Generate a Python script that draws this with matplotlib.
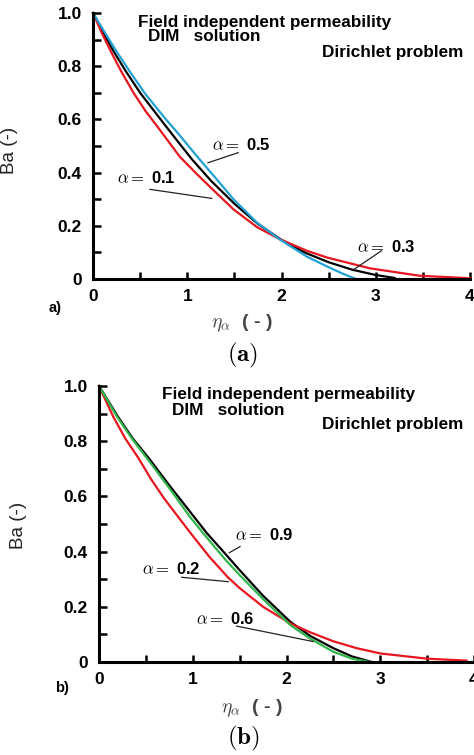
import matplotlib
matplotlib.use('Agg')
import matplotlib.pyplot as plt
from matplotlib.ticker import FixedLocator

plt.rcParams['font.family'] = ['Liberation Sans', 'DejaVu Sans']

# ---------------- data: panel (a) ----------------
a_red_x = [0, 0.10, 0.19, 0.30, 0.43, 0.56, 0.70, 0.92, 1.10, 1.26, 1.49, 1.74, 1.98, 2.27, 2.49, 2.94, 3.47, 4.0]
a_red_y = [1.0, 0.92, 0.855, 0.78, 0.70, 0.63, 0.565, 0.46, 0.395, 0.34, 0.262, 0.195, 0.15, 0.106, 0.080, 0.04, 0.012, 0.003]
a_blk_x = [0, 0.10, 0.22, 0.35, 0.50, 0.75, 0.92, 1.05, 1.25, 1.50, 1.75, 2.00, 2.25, 2.50, 2.75, 3.00, 3.20]
a_blk_y = [1.0, 0.932, 0.855, 0.78, 0.70, 0.585, 0.508, 0.45, 0.37, 0.283, 0.207, 0.147, 0.099, 0.063, 0.035, 0.015, 0.004]
a_cyn_x = [0, 0.12, 0.25, 0.40, 0.55, 0.75, 0.92, 1.13, 1.30, 1.49, 1.74, 1.98, 2.27, 2.49, 2.65, 2.79]
a_cyn_y = [1.0, 0.93, 0.855, 0.775, 0.698, 0.61, 0.54, 0.45, 0.38, 0.30, 0.212, 0.149, 0.084, 0.046, 0.02, 0.0]

# ---------------- data: panel (b) ----------------
b_red_x = [0, 0.15, 0.28, 0.42, 0.56, 0.70, 0.97, 1.18, 1.38, 1.50, 1.75, 2.04, 2.25, 2.50, 2.75, 3.00, 3.50, 3.92]
b_red_y = [1.0, 0.89, 0.81, 0.739, 0.66, 0.59, 0.47, 0.38, 0.305, 0.268, 0.20, 0.14, 0.108, 0.075, 0.05, 0.031, 0.012, 0.005]
b_blk_x = [0, 0.20, 0.36, 0.53, 0.75, 0.97, 1.15, 1.30, 1.50, 1.75, 2.04, 2.25, 2.50, 2.70, 2.91]
b_blk_y = [1.0, 0.89, 0.81, 0.739, 0.64, 0.545, 0.467, 0.41, 0.333, 0.24, 0.146, 0.095, 0.05, 0.02, 0.0]
b_grn_x = [0, 0.19, 0.35, 0.51, 0.75, 0.97, 1.11, 1.35, 1.50, 1.75, 2.04, 2.25, 2.50, 2.70, 2.89]
b_grn_y = [1.0, 0.89, 0.81, 0.739, 0.63, 0.526, 0.467, 0.37, 0.315, 0.228, 0.134, 0.085, 0.037, 0.012, 0.0]

x_ticks_major = [0, 1, 2, 3, 4]
x_ticks_minor = [0.5, 1.5, 2.5, 3.5]
x_tick_labels = ['0', '1', '2', '3', '4']
y_ticks_major = [0, 0.2, 0.4, 0.6, 0.8, 1.0]
y_ticks_minor = [0.1, 0.3, 0.5, 0.7, 0.9]
y_tick_labels = ['0', '0.2', '0.4', '0.6', '0.8', '1.0']

title1 = 'Field independent permeability'
title2 = 'DIM   solution'
title3 = 'Dirichlet problem'

RED = '#e8161e'
CYAN = '#22a2d4'
GREEN = '#2fb54a'
BLACK = '#000000'

W, H = 474, 755
fig = plt.figure(figsize=(W / 100, H / 100), dpi=100)


def px_axes(left, right, top, bottom):
    return fig.add_axes([left / W, 1 - bottom / H, (right - left) / W, (bottom - top) / H])


def style(ax):
    ax.set_xlim(0, 4)
    ax.set_ylim(0, 1.0)
    for s in ['top', 'right']:
        ax.spines[s].set_visible(False)
    for s in ['left', 'bottom']:
        ax.spines[s].set_linewidth(2.2)
    ax.xaxis.set_major_locator(FixedLocator(x_ticks_major))
    ax.xaxis.set_minor_locator(FixedLocator(x_ticks_minor))
    ax.yaxis.set_major_locator(FixedLocator(y_ticks_major))
    ax.yaxis.set_minor_locator(FixedLocator(y_ticks_minor))
    ax.set_xticklabels(x_tick_labels, fontsize=12.5, fontweight='bold')
    ax.set_yticklabels(y_tick_labels, fontsize=12.5, fontweight='bold')
    ax.tick_params(axis='x', which='both', direction='in', length=5, width=1.8, pad=7)
    ax.tick_params(axis='y', which='both', direction='in', length=6, width=1.8, pad=8)
    ax.patch.set_alpha(0)


def alpha_label(ax, x, y, val):
    ax.text(x, y, r'$\alpha =$ ' + val, fontsize=12, fontweight='bold',
            math_fontfamily='cm', va='center', ha='left', color='black')


# ---------------- panel (a) ----------------
ax1 = px_axes(93, 470, 13, 279)
style(ax1)
ax1.plot(a_blk_x, a_blk_y, color=BLACK, lw=1.6, clip_on=False)
ax1.plot(a_red_x, a_red_y, color=RED, lw=1.6, clip_on=False)
ax1.plot(a_cyn_x, a_cyn_y, color=CYAN, lw=1.6, clip_on=False)

ax1.text(0.477, 0.966, title1, fontsize=12.3, fontweight='bold', va='center', ha='left')
ax1.text(0.584, 0.91, title2, fontsize=12.3, fontweight='bold', va='center', ha='left')
ax1.text(2.43, 0.853, title3, fontsize=12.3, fontweight='bold', va='center', ha='left')

alpha_label(ax1, 1.26, 0.504, '0.5')
ax1.plot([1.54, 1.22], [0.475, 0.437], color='#222222', lw=0.9)
alpha_label(ax1, 0.255, 0.38, '0.1')
ax1.plot([0.605, 1.26], [0.337, 0.303], color='#222222', lw=0.9)
alpha_label(ax1, 2.80, 0.121, '0.3')
ax1.plot([3.06, 2.76], [0.106, 0.034], color='#222222', lw=0.9)

ax1.set_ylabel('Ba (-)', fontsize=13.5, color='#222222')
ax1.yaxis.set_label_coords(-0.199, 0.485)
ax1.set_xlabel(r'$\eta_\alpha$  ( - )', fontsize=14, fontweight='bold', color='#444444',
               math_fontfamily='cm')
ax1.xaxis.set_label_coords(0.395, -0.124)

fig.text(55 / W, 1 - 308 / H, 'a)', fontsize=10.5, fontweight='bold', ha='center', va='center')
fig.text(243 / W, 1 - 355 / H, r'$\mathbf{(a)}$', fontsize=18, math_fontfamily='cm',
         ha='center', va='center')

# ---------------- panel (b) ----------------
ax2 = px_axes(99, 474, 386, 662)
style(ax2)
ax2.plot(b_blk_x, b_blk_y, color=BLACK, lw=1.6, clip_on=False)
ax2.plot(b_red_x, b_red_y, color=RED, lw=1.6, clip_on=False)
ax2.plot(b_grn_x, b_grn_y, color=GREEN, lw=1.6, clip_on=False)

ax2.text(0.669, 0.971, title1, fontsize=12.3, fontweight='bold', va='center', ha='left')
ax2.text(0.775, 0.911, title2, fontsize=12.3, fontweight='bold', va='center', ha='left')
ax2.text(2.375, 0.859, title3, fontsize=12.3, fontweight='bold', va='center', ha='left')

alpha_label(ax2, 1.45, 0.46, '0.9')
ax2.plot([1.504, 1.39], [0.418, 0.396], color='#222222', lw=0.9)
alpha_label(ax2, 0.455, 0.336, '0.2')
ax2.plot([0.882, 1.379], [0.307, 0.291], color='#222222', lw=0.9)
alpha_label(ax2, 1.035, 0.155, '0.6')
ax2.plot([1.469, 2.286], [0.13, 0.074], color='#222222', lw=0.9)

ax2.set_ylabel('Ba (-)', fontsize=13.5, color='#222222')
ax2.yaxis.set_label_coords(-0.192, 0.496)
ax2.set_xlabel(r'$\eta_\alpha$  ( - )', fontsize=14, fontweight='bold', color='#444444',
               math_fontfamily='cm')
ax2.xaxis.set_label_coords(0.408, -0.13)

fig.text(62 / W, 1 - 688 / H, 'b)', fontsize=10.5, fontweight='bold', ha='center', va='center')
fig.text(243 / W, 1 - 738 / H, r'$\mathbf{(b)}$', fontsize=18, math_fontfamily='cm',
         ha='center', va='center')

fig.savefig('out.png', dpi=100, facecolor='white')
